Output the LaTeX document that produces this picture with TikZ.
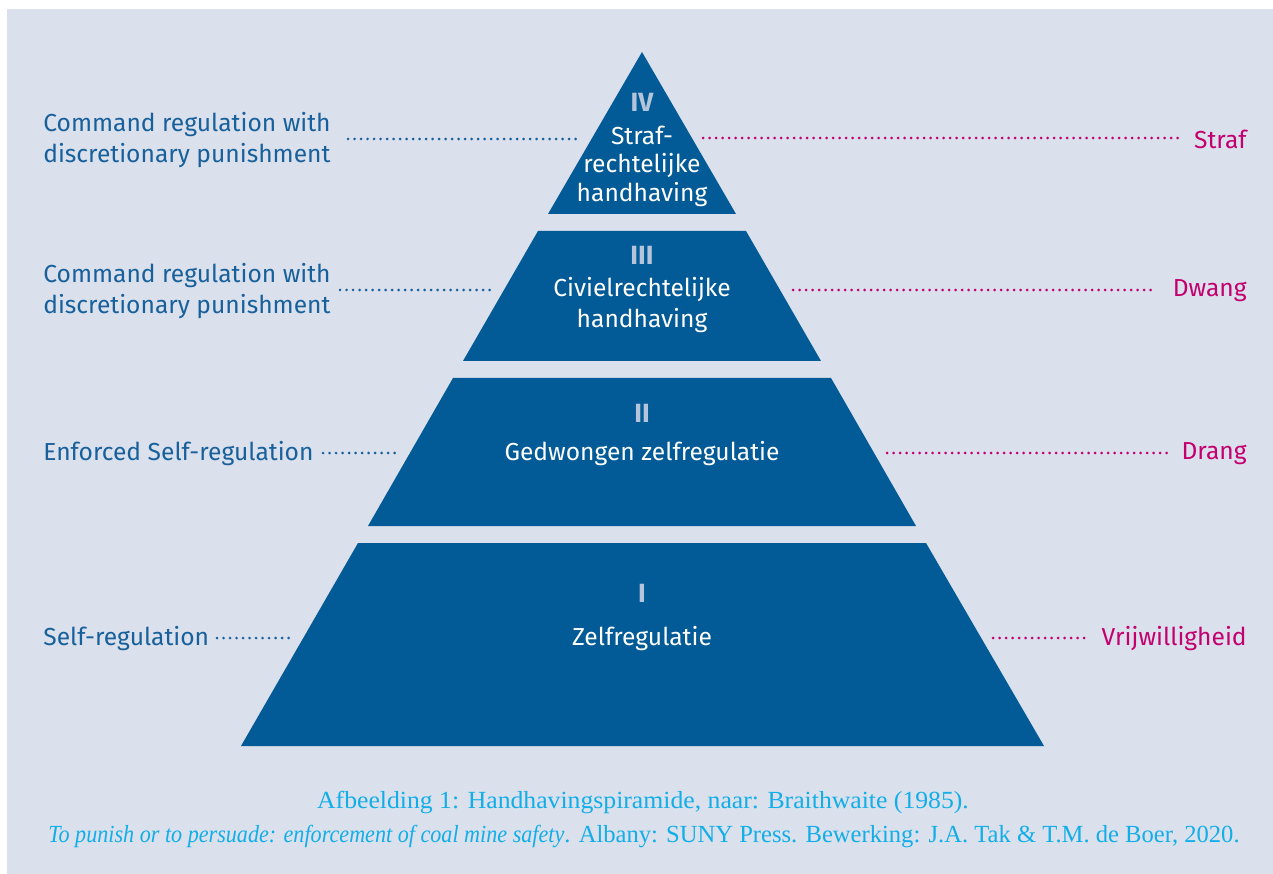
\documentclass[tikz,border=0pt]{standalone}
\usepackage{fontspec}
\setmainfont{Liberation Serif}
\setsansfont{Fira Sans}
\usetikzlibrary{positioning}
\definecolor{bgblue}{HTML}{DAE0EC}
\definecolor{pyrblue}{HTML}{025A96}
\definecolor{numgrey}{HTML}{B4C4DA}
\definecolor{leftblue}{HTML}{17609B}
\definecolor{rightred}{HTML}{C4006E}
\definecolor{capblue}{HTML}{12AEE8}

\begin{document}
\begin{tikzpicture}[x=0.02cm, y=-0.02cm, font=\sffamily\fontsize{14}{18}\selectfont]
		\tikzstyle{tier}=[fill=pyrblue]
		\tikzstyle{num}=[text=numgrey, font=\sffamily\bfseries\fontsize{15}{18}\selectfont, inner sep=0pt]
		\tikzstyle{inside}=[text=white, align=center, inner sep=0pt]
		\tikzstyle{lbl}=[text=leftblue, anchor=west, align=left, inner sep=0pt]
		\tikzstyle{rlbl}=[text=rightred, anchor=east, inner sep=0pt]
		\tikzstyle{ldots}=[draw=leftblue, line width=1.7pt, line cap=round, dash pattern=on 0pt off 3.7pt]
		\tikzstyle{rdots}=[ldots, draw=rightred]
		\tikzstyle{caption}=[text=capblue, font=\rmfamily\fontsize{14}{18}\selectfont, inner sep=0pt]

		\useasboundingbox (0,0) rectangle (1273,874);
		\fill[bgblue] (7,9) rectangle (1273,874);

		% the four tiers
		\fill[tier] (642,52) -- (736,214) -- (548,214) -- cycle;
		\fill[tier] (538,231) -- (746,231) -- (821,361) -- (463,361) -- cycle;
		\fill[tier] (453,378) -- (831,378) -- (916,526) -- (368,526) -- cycle;
		\fill[tier] (358,543) -- (926,543) -- (1044,746) -- (241,746) -- cycle;

		\node[num] (n4) at (642,102) {IV};
		\node[inside, font=\sffamily\fontsize{14}{16.2}\selectfont] (t4) at (642,166) {Straf-\\rechtelijke\\handhaving};
		\node[num] (n3) at (642,255) {III};
		\node[inside] (t3) at (642,305) {Civielrechtelijke\\handhaving};
		\node[num] (n2) at (642,413) {II};
		\node[inside] (t2) at (642,454) {Gedwongen zelfregulatie};
		\node[num] (n1) at (642,593) {I};
		\node[inside] (t1) at (642,639) {Zelfregulatie};

		% left side
		\node[lbl] (l4) at (43,140) {Command regulation with\\discretionary punishment};
		\node[lbl] (l3) at (43,291) {Command regulation with\\discretionary punishment};
		\node[lbl] (l2) at (43,454) {Enforced Self-regulation};
		\node[lbl] (l1) at (43,639) {Self-regulation};

		% right side
		\node[rlbl] (r4) at (1247,139) {Straf};
		\node[rlbl] (r3) at (1247,291) {Dwang};
		\node[rlbl] (r2) at (1247,454) {Drang};
		\node[rlbl] (r1) at (1247,639) {Vrijwilligheid};

		\coordinate (a4) at (348,139);  \coordinate (b4) at (580,139);
		\coordinate (a3) at (340,290);  \coordinate (b3) at (494,290);
		\coordinate (a2) at (323,453);  \coordinate (b2) at (397,453);
		\coordinate (a1) at (217,638);  \coordinate (b1) at (290,638);
		\coordinate (c4) at (703,138);  \coordinate (d4) at (1180,138);
		\coordinate (c3) at (793,290);  \coordinate (d3) at (1155,290);
		\coordinate (c2) at (887,453);  \coordinate (d2) at (1170,453);
		\coordinate (c1) at (993,638);  \coordinate (d1) at (1090,638);

		\foreach \i in {1,...,4} {
			\draw[ldots] (a\i) -- (b\i);
			\draw[rdots] (c\i) -- (d\i);
		}

		% caption
		\node[caption] (cap1) at (643,802) {\scalebox{1.045}[1]{Afbeelding 1: Handhavingspiramide, naar: Braithwaite (1985).}};
		\node[caption] (cap2) at (644,836) {\scalebox{0.9}[1]{\textit{To punish or to persuade: enforcement of coal mine safety}}. Albany: SUNY Press. Bewerking: J.A. Tak \& T.M. de Boer, 2020.};
	\end{tikzpicture}
\end{document}
